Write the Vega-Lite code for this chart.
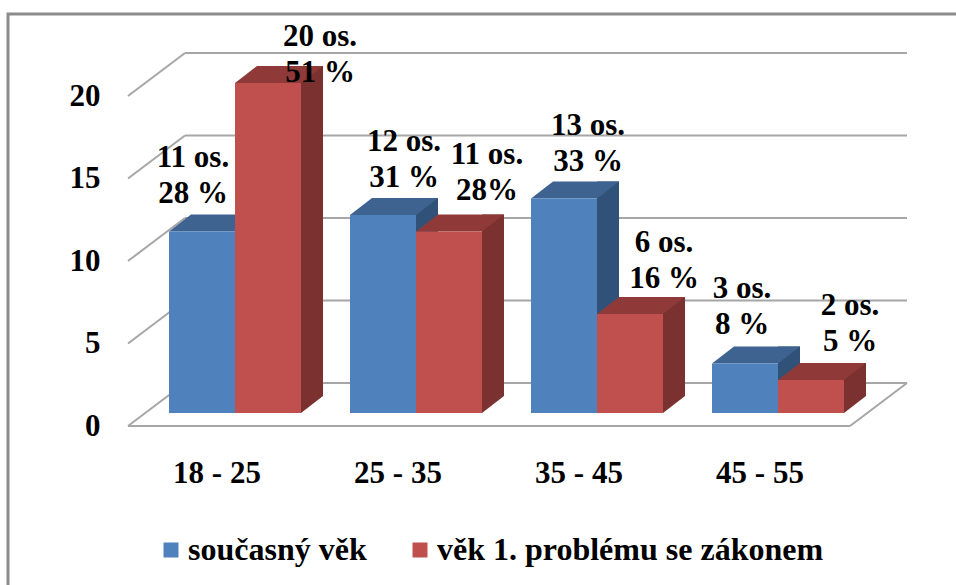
{
"$schema":"https://vega.github.io/schema/vega-lite/v6.json",
"autosize":{"type":"none"},
"padding":{"left":8,"top":14,"right":-3,"bottom":-3},
"width":951,"height":574,
"background":"white",
"view":{"stroke":"#8c8c8c","strokeWidth":3,"fill":"white"},
"config":{"text":{"font":"Liberation Serif"}},
"datasets":{
"bars":[
{"age":"18 -  25","series":"současný věk","value":11,"label":"11 os.\n28 %"},
{"age":"18 -  25","series":"věk 1. problému se zákonem","value":20,"label":"20 os.\n51 %"},
{"age":"25 -  35","series":"současný věk","value":12,"label":"12 os.\n31 %"},
{"age":"25 -  35","series":"věk 1. problému se zákonem","value":11,"label":"11 os.\n28%"},
{"age":"35 -  45","series":"současný věk","value":13,"label":"13 os.\n33 %"},
{"age":"35 -  45","series":"věk 1. problému se zákonem","value":6,"label":"6 os.\n16 %"},
{"age":"45 -  55","series":"současný věk","value":3,"label":"3 os.\n8 %"},
{"age":"45 -  55","series":"věk 1. problému se zákonem","value":2,"label":"2 os.\n5 %"}
],
"grid":[{"v":0},{"v":5},{"v":10},{"v":15},{"v":20}]
},
"encoding":{
"y":{"field":"value","type":"quantitative","scale":{"domain":[0,20],"range":[412,82],"nice":false,"zero":false}}
},
"layer":[
{"data":{"name":"grid"},
"encoding":{"y":{"field":"v","type":"quantitative","scale":{"domain":[0,20],"range":[412,82],"nice":false,"zero":false},
"axis":{"values":[0,5,10,15,20],"title":null,"grid":false,"domain":false,"ticks":false,"offset":-92,"labelPadding":0,"labelFont":"Liberation Serif","labelFontWeight":"bold","labelFontSize":31,"labelColor":"#000"}}},
"layer":[
{"mark":{"type":"rule","stroke":"#a6a6a6","strokeWidth":2,"yOffset":-43},
"encoding":{"x":{"datum":57,"type":"quantitative","scale":{"domain":[0,779],"range":[120,899],"nice":false,"zero":false},"axis":null},"x2":{"datum":779}}},
{"mark":{"type":"point","shape":"M0 0 L57 -43","size":4,"filled":false,"fill":"transparent","stroke":"#a6a6a6","strokeWidth":2,"opacity":1},
"encoding":{"x":{"datum":0,"type":"quantitative"}}},
{"transform":[{"filter":"datum.v==0"}],"mark":{"type":"rule","stroke":"#a6a6a6","strokeWidth":2},
"encoding":{"x":{"datum":0,"type":"quantitative"},"x2":{"datum":722}}},
{"transform":[{"filter":"datum.v==0"}],"mark":{"type":"point","shape":"M0 0 L57 -43","size":4,"filled":false,"fill":"transparent","stroke":"#a6a6a6","strokeWidth":2,"opacity":1},
"encoding":{"x":{"datum":722,"type":"quantitative"}}}
]},
{"data":{"name":"bars"},
"encoding":{"x":{"field":"age","type":"nominal","sort":null,"scale":{"type":"band","range":[136.5,860.5],"paddingInner":0,"paddingOuter":0},
"axis":{"title":null,"orient":"bottom","domain":false,"ticks":false,"labelAngle":0,"offset":-115,"labelPadding":0,"labelOffset":-18,"labelBaseline":"middle","labelFont":"Liberation Serif","labelFontWeight":"bold","labelFontSize":31,"labelColor":"#000","labelLimit":300}}},
"layer":[
{"transform":[{"filter":"datum.series=='současný věk'"}],"mark":{"type":"bar","width":22,"xOffset":11,"yOffset":-30,"y2Offset":-30,"color":"#315278"},"encoding":{"y2":{"datum":0}}},
{"transform":[{"filter":"datum.series!='současný věk'"}],"mark":{"type":"bar","width":22,"xOffset":77,"yOffset":-30,"y2Offset":-30,"color":"#7a312f"},"encoding":{"y2":{"datum":0}}},
{"transform":[{"filter":"datum.series=='současný věk'"}],"mark":{"type":"point","shape":"M0 0 L22 -17 L0 -17 Z","size":4,"filled":true,"opacity":1,"strokeWidth":0,"color":"#315278","xOffset":0,"yOffset":-13},"encoding":{"y":{"datum":0}}},
{"transform":[{"filter":"datum.series!='současný věk'"}],"mark":{"type":"point","shape":"M0 0 L22 -17 L0 -17 Z","size":4,"filled":true,"opacity":1,"strokeWidth":0,"color":"#7a312f","xOffset":66,"yOffset":-13},"encoding":{"y":{"datum":0}}},
{"transform":[{"filter":"datum.series=='současný věk'"}],"mark":{"type":"point","shape":"M-66 0 L0 0 L22 -17 L-44 -17 Z","size":4,"filled":true,"opacity":1,"strokeWidth":0,"color":"#3e6391","xOffset":0,"yOffset":-13}},
{"transform":[{"filter":"datum.series!='současný věk'"}],"mark":{"type":"point","shape":"M-66 0 L0 0 L22 -17 L-44 -17 Z","size":4,"filled":true,"opacity":1,"strokeWidth":0,"color":"#8f3a38","xOffset":66,"yOffset":-13}},
{"transform":[{"filter":"datum.series=='současný věk'"}],"mark":{"type":"bar","width":66,"xOffset":-33,"yOffset":-13,"y2Offset":-13},
"encoding":{"y2":{"datum":0},"color":{"field":"series","type":"nominal","scale":{"domain":["současný věk","věk 1. problému se zákonem"],"range":["#4f81bd","#c0504d"]},
"legend":{"title":null,"orient":"none","legendX":147,"legendY":520,"columns":2,"symbolType":"square","symbolSize":225,"symbolOpacity":1,"columnPadding":37,"labelOffset":1,"labelFont":"Liberation Serif","labelFontWeight":"bold","labelFontSize":32,"labelColor":"#000","labelLimit":500,"symbolStrokeWidth":0}}}},
{"transform":[{"filter":"datum.series!='současný věk'"}],"mark":{"type":"bar","width":66,"xOffset":33,"yOffset":-13,"y2Offset":-13},
"encoding":{"y2":{"datum":0},"color":{"field":"series","type":"nominal"}}},
{"transform":[{"filter":"datum.value==11 && datum.series=='současný věk'"}],"mark":{"type":"text","lineBreak":"\n","lineHeight":36,"font":"Liberation Serif","fontWeight":"bold","fontSize":31,"color":"#000","baseline":"middle","xOffset":-42,"yOffset":-87},"encoding":{"text":{"field":"label"}}},
{"transform":[{"filter":"datum.value==20"}],"mark":{"type":"text","lineBreak":"\n","lineHeight":36,"font":"Liberation Serif","fontWeight":"bold","fontSize":31,"color":"#000","baseline":"middle","xOffset":85,"yOffset":-59},"encoding":{"text":{"field":"label"}}},
{"transform":[{"filter":"datum.value==12"}],"mark":{"type":"text","lineBreak":"\n","lineHeight":36,"font":"Liberation Serif","fontWeight":"bold","fontSize":31,"color":"#000","baseline":"middle","xOffset":-12,"yOffset":-86},"encoding":{"text":{"field":"label"}}},
{"transform":[{"filter":"datum.value==11 && datum.series!='současný věk'"}],"mark":{"type":"text","lineBreak":"\n","lineHeight":36,"font":"Liberation Serif","fontWeight":"bold","fontSize":31,"color":"#000","baseline":"middle","xOffset":71,"yOffset":-90},"encoding":{"text":{"field":"label"}}},
{"transform":[{"filter":"datum.value==13"}],"mark":{"type":"text","lineBreak":"\n","lineHeight":36,"font":"Liberation Serif","fontWeight":"bold","fontSize":31,"color":"#000","baseline":"middle","xOffset":-9,"yOffset":-86},"encoding":{"text":{"field":"label"}}},
{"transform":[{"filter":"datum.value==6"}],"mark":{"type":"text","lineBreak":"\n","lineHeight":36,"font":"Liberation Serif","fontWeight":"bold","fontSize":31,"color":"#000","baseline":"middle","xOffset":67,"yOffset":-84},"encoding":{"text":{"field":"label"}}},
{"transform":[{"filter":"datum.value==3"}],"mark":{"type":"text","lineBreak":"\n","lineHeight":36,"font":"Liberation Serif","fontWeight":"bold","fontSize":31,"color":"#000","baseline":"middle","xOffset":-36,"yOffset":-88},"encoding":{"text":{"field":"label"}}},
{"transform":[{"filter":"datum.value==2"}],"mark":{"type":"text","lineBreak":"\n","lineHeight":36,"font":"Liberation Serif","fontWeight":"bold","fontSize":31,"color":"#000","baseline":"middle","xOffset":72,"yOffset":-87},"encoding":{"text":{"field":"label"}}}
]}
],
"resolve":{"scale":{"x":"independent"},"axis":{"x":"independent"}}
}
